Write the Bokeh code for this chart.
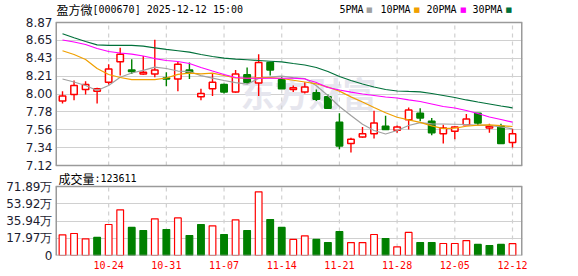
import numpy as np
from bokeh.plotting import figure
from bokeh.models import Range1d, FixedTicker, Label, ColumnDataSource
from bokeh.embed import file_html
from bokeh.resources import INLINE

# ---------------- data ----------------
dates = ["10-20", "10-21", "10-22", "10-23", "10-24", "10-27", "10-28", "10-29", "10-30", "10-31",
         "11-03", "11-04", "11-05", "11-06", "11-07", "11-10", "11-11", "11-12", "11-13", "11-14",
         "11-17", "11-18", "11-19", "11-20", "11-21", "11-24", "11-25", "11-26", "11-27", "11-28",
         "12-01", "12-02", "12-03", "12-04", "12-05", "12-08", "12-09", "12-10", "12-11", "12-12"]

opens = [7.91, 7.99, 8.05, 8.03, 8.14, 8.39, 8.29, 8.24, 8.24, 8.19,
         8.18, 8.29, 7.96, 8.06, 8.11, 8.02, 8.23, 8.13, 8.38, 8.17,
         8.05, 8.02, 8.01, 7.96, 7.65, 7.39, 7.47, 7.51, 7.60, 7.55,
         7.68, 7.76, 7.66, 7.51, 7.54, 7.62, 7.76, 7.58, 7.60, 7.40]
highs = [8.03, 8.16, 8.15, 8.07, 8.36, 8.56, 8.42, 8.46, 8.66, 8.26,
         8.39, 8.38, 8.06, 8.24, 8.12, 8.29, 8.32, 8.48, 8.39, 8.20,
         8.10, 8.14, 8.05, 7.99, 7.76, 7.46, 7.59, 7.79, 7.73, 7.61,
         7.83, 7.82, 7.70, 7.62, 7.60, 7.75, 7.76, 7.63, 7.63, 7.57]
lows = [7.88, 7.92, 7.99, 7.88, 8.11, 8.22, 8.24, 8.23, 8.20, 8.09,
        8.03, 8.18, 7.92, 7.97, 8.00, 8.01, 8.12, 7.97, 8.22, 8.06,
        8.02, 8.00, 7.91, 7.81, 7.32, 7.28, 7.46, 7.45, 7.56, 7.52,
        7.56, 7.66, 7.49, 7.39, 7.44, 7.62, 7.61, 7.52, 7.39, 7.34]
closes = [7.97, 8.10, 8.11, 8.06, 8.30, 8.48, 8.27, 8.26, 8.29, 8.18,
          8.36, 8.25, 8.00, 8.14, 8.02, 8.24, 8.14, 8.38, 8.29, 8.06,
          8.07, 8.08, 7.93, 7.82, 7.36, 7.44, 7.51, 7.64, 7.56, 7.59,
          7.80, 7.70, 7.52, 7.58, 7.59, 7.69, 7.64, 7.60, 7.39, 7.51]

# volume in 万 (10k)
volumes = [21.5, 22.9, 17.4, 18.8, 32.3, 47.6, 29.2, 26.0, 38.2, 27.1,
           39.2, 20.8, 32.3, 30.9, 21.9, 37.2, 26.0, 66.3, 37.5, 29.2,
           16.7, 20.5, 16.7, 13.5, 25.0, 13.5, 13.5, 21.9, 17.7, 9.0,
           24.0, 13.5, 13.5, 12.5, 12.5, 15.6, 11.5, 10.4, 11.5, 12.36]
# volume bar direction (1 = up / red hollow, 0 = down / green)
vol_up = [1, 1, 1, 0, 1, 1, 0, 0, 1, 0,
          1, 0, 0, 1, 0, 1, 0, 1, 0, 0,
          1, 1, 0, 0, 0, 1, 1, 1, 0, 1,
          1, 0, 0, 1, 1, 1, 0, 0, 0, 1]

ma5 = [8.179, 8.142, 8.099, 8.038, 8.099, 8.200, 8.252, 8.285, 8.323, 8.307,
       8.276, 8.270, 8.220, 8.190, 8.160, 8.135, 8.115, 8.185, 8.203, 8.213,
       8.195, 8.185, 8.095, 7.977, 7.842, 7.732, 7.625, 7.548, 7.506, 7.548,
       7.610, 7.645, 7.630, 7.628, 7.625, 7.622, 7.610, 7.610, 7.591, 7.569]
ma10 = [8.524, 8.478, 8.417, 8.307, 8.234, 8.197, 8.172, 8.172, 8.172, 8.191,
        8.235, 8.250, 8.242, 8.250, 8.221, 8.191, 8.188, 8.195, 8.195, 8.185,
        8.163, 8.142, 8.120, 8.080, 8.030, 7.960, 7.898, 7.830, 7.765, 7.710,
        7.678, 7.647, 7.605, 7.572, 7.578, 7.600, 7.615, 7.618, 7.607, 7.597]
ma20 = [8.656, 8.631, 8.601, 8.552, 8.515, 8.497, 8.484, 8.460, 8.429, 8.405,
        8.393, 8.368, 8.319, 8.276, 8.234, 8.197, 8.188, 8.188, 8.188, 8.188,
        8.188, 8.179, 8.136, 8.075, 8.044, 8.019, 7.995, 7.977, 7.958, 7.946,
        7.922, 7.903, 7.873, 7.842, 7.824, 7.793, 7.756, 7.714, 7.683, 7.650]
ma30 = [8.732, 8.684, 8.637, 8.597, 8.589, 8.589, 8.589, 8.580, 8.560, 8.540,
        8.524, 8.507, 8.478, 8.454, 8.433, 8.421, 8.414, 8.405, 8.396, 8.387,
        8.368, 8.350, 8.319, 8.270, 8.209, 8.160, 8.117, 8.081, 8.050, 8.032,
        8.026, 8.022, 8.001, 7.977, 7.952, 7.922, 7.897, 7.873, 7.848, 7.826]

price_min, price_max = 7.12, 8.87
price_tick_labels = ["7.12", "7.34", "7.56", "7.78", "8.00", "8.21", "8.43", "8.65", "8.87"]
vol_max = 71.89
vol_tick_values = [0, 17.97, 35.94, 53.92, 71.89]
vol_tick_labels = ["0", "17.97万", "35.94万", "53.92万", "71.89万"]
x_tick_dates = ["10-24", "10-31", "11-07", "11-14", "11-21", "11-28", "12-05", "12-12"]

title_name = "盈方微"
title_rest = "[000670] 2025-12-12 15:00"
vol_title_name = "成交量"
vol_title_rest = ":123611"
ma_names = ["5PMA", "10PMA", "20PMA", "30PMA"]
ma_colors = ["#a0a0a0", "#f0a000", "#ff00ff", "#00703a"]

# ---------------- layout geometry (pixels) ----------------
W_LEFT, W_FRAME, W_RIGHT = 55, 467, 56
FRAME_H = 255            # frame spans page y 0..255
P_TOP, P_BOT = 22, 165   # price panel box
V_TOP, V_BOT = 186, 255  # volume panel box
X_AXIS_H = 21

n = len(dates)
idx = list(range(n))
x_lo, x_hi = -0.607, n - 1 + 0.867

ppu = (P_BOT - P_TOP) / (price_max - price_min)   # px per price unit
py0 = price_min - (FRAME_H - P_BOT) / ppu
py1 = price_max + P_TOP / ppu
vpu = (V_BOT - V_TOP) / vol_max                   # px per volume unit
vy0 = 0 - (FRAME_H - V_BOT) / vpu
vy1 = vol_max + V_TOP / vpu

RED, GREEN = "#ff0000", "#008000"
up = [c > o for o, c in zip(opens, closes)]
src = ColumnDataSource(dict(
    x=idx, h=highs, l=lows,
    top=[max(o, c) for o, c in zip(opens, closes)],
    bot=[min(o, c) for o, c in zip(opens, closes)],
    col=[RED if u else GREEN for u in up],
    fill=["#ffffff" if u else GREEN for u in up],
    vol=volumes,
    vcol=[RED if u else GREEN for u in vol_up],
    vfill=["#ffffff" if u else GREEN for u in vol_up],
))
price_ticks = [float(t) for t in np.linspace(price_min, price_max, len(price_tick_labels))]
# volume ticks expressed on the shared (price) axis scale
vol_ticks_on_axis = [py0 + (vy - vy0) * vpu / ppu for vy in vol_tick_values]
x_ticks = [dates.index(d) for d in x_tick_dates]

GRID = "#d0d0d0"
FRAME = "#9a9a9a"
AXIS_TXT = "#1c1c30"

p = figure(x_range=Range1d(x_lo, x_hi), y_range=Range1d(py0, py1),
           frame_width=W_FRAME, frame_height=FRAME_H,
           min_border_left=W_LEFT, min_border_right=W_RIGHT,
           min_border_top=0, min_border_bottom=X_AXIS_H,
           toolbar_location=None, output_backend="svg", title=None)
p.extra_y_ranges = {"vol": Range1d(vy0, vy1)}
p.outline_line_color = None
p.background_fill_color = "white"
p.border_fill_color = "white"
p.xgrid.visible = False

all_ticks = price_ticks + vol_ticks_on_axis
all_labels = price_tick_labels + vol_tick_labels
ya = p.yaxis[0]
ya.ticker = FixedTicker(ticks=all_ticks)
ya.major_label_overrides = {t: lab for t, lab in zip(all_ticks, all_labels)}
ya.major_tick_out = 0
ya.major_tick_in = 0
ya.minor_tick_out = 0
ya.minor_tick_in = 0
ya.axis_line_color = None
ya.major_label_standoff = 3
ya.major_label_text_font = "DejaVu Sans"
ya.major_label_text_font_size = "12px"
ya.major_label_text_color = AXIS_TXT
p.ygrid.ticker = FixedTicker(ticks=all_ticks)
p.ygrid.grid_line_color = GRID
p.ygrid.grid_line_width = 1.2

xa = p.xaxis[0]
xa.ticker = FixedTicker(ticks=x_ticks)
xa.major_label_overrides = {i: d for i, d in zip(x_ticks, x_tick_dates)}
xa.major_tick_out = 0
xa.major_tick_in = 0
xa.minor_tick_out = 0
xa.minor_tick_in = 0
xa.axis_line_color = None
xa.major_label_standoff = 5
xa.major_label_text_font = "DejaVu Sans Mono"
xa.major_label_text_font_size = "10px"
xa.major_label_text_color = RED

# watermark
p.add_layout(Label(x=185, y=FRAME_H - 92, x_units="screen", y_units="screen", text="东方财富",
                   text_font="Noto Sans CJK SC", text_font_size="34px", text_font_style="bold",
                   text_color="#e6e6ee", text_baseline="middle", level="underlay"))

k = len(x_ticks)
# dashed date lines in each panel
p.segment(x0=x_ticks, y0=[price_min] * k, x1=x_ticks, y1=[price_max] * k,
          line_color=GRID, line_width=1.2, line_dash="4 4")
p.segment(x0=x_ticks, y0=[0] * k, x1=x_ticks, y1=[vol_max] * k,
          line_color=GRID, line_width=1.2, line_dash="4 4", y_range_name="vol")

# candles
p.segment(x0="x", y0="h", x1="x", y1="l", line_color="col", line_width=1.4, source=src)
p.vbar(x="x", width=0.56, top="top", bottom="bot", fill_color="fill",
       line_color="col", line_width=1.5, source=src)
for vals, c in zip([ma5, ma10, ma20, ma30], ma_colors):
    p.line(idx, vals, line_color=c, line_width=1.2)

# volume bars
p.vbar(x="x", width=0.58, top="vol", bottom=0, fill_color="vfill",
       line_color="vcol", line_width=1.2, source=src, y_range_name="vol")


def panel_border(y0, y1, rng="default"):
    p.segment(x0=[x_lo, x_lo], y0=[y0, y1], x1=[x_hi, x_hi], y1=[y0, y1],
              line_color=FRAME, line_width=1.5, y_range_name=rng)
    p.segment(x0=[x_lo, x_hi], y0=[y0, y0], x1=[x_lo, x_hi], y1=[y1, y1],
              line_color=FRAME, line_width=3, y_range_name=rng)


panel_border(price_min, price_max)
panel_border(0, vol_max, "vol")

# header texts
TY = FRAME_H - 9.3
p.add_layout(Label(x=1, y=TY, x_units="screen", y_units="screen", text=title_name,
                   text_font="Noto Sans CJK SC", text_font_size="12px", text_color="#000000",
                   text_baseline="middle"))
p.add_layout(Label(x=37, y=TY, x_units="screen", y_units="screen", text=title_rest,
                   text_font="DejaVu Sans Mono", text_font_size="10px", text_color="#000000",
                   text_baseline="middle"))
leg_text_x = [284, 325, 371, 417]
leg_sq_x = [310.5, 358, 404.5, 450]
for name, c, tx, sx in zip(ma_names, ma_colors, leg_text_x, leg_sq_x):
    p.add_layout(Label(x=tx, y=TY, x_units="screen", y_units="screen", text=name,
                       text_font="DejaVu Sans Mono", text_font_size="10px", text_color="#000000",
                       text_baseline="middle"))
    p.add_layout(Label(x=sx, y=TY, x_units="screen", y_units="screen", text="■",
                       text_font="DejaVu Sans", text_font_size="7px", text_color=c,
                       text_baseline="middle"))

VY = FRAME_H - 177.5
p.add_layout(Label(x=3, y=VY, x_units="screen", y_units="screen", text=vol_title_name,
                   text_font="Noto Sans CJK SC", text_font_size="12px", text_color="#000000",
                   text_baseline="middle"))
p.add_layout(Label(x=39, y=VY, x_units="screen", y_units="screen", text=vol_title_rest,
                   text_font="DejaVu Sans Mono", text_font_size="10px", text_color="#000000",
                   text_baseline="middle"))

open("out.html", "w").write(file_html(p, INLINE))
